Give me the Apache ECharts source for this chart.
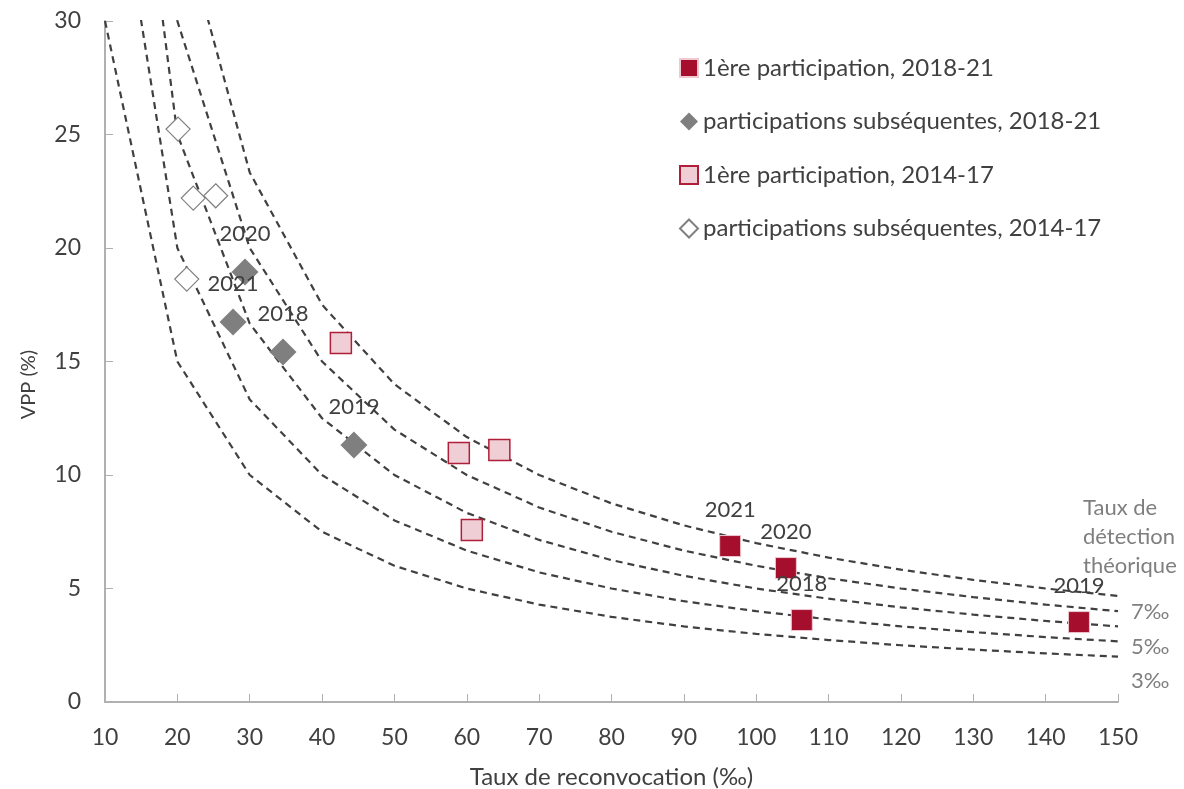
<!DOCTYPE html>
<html>
<head>
<meta charset="utf-8">
<script src="https://cdn.jsdelivr.net/npm/echarts@6/dist/echarts.min.js"></script>
<style>
  html, body { margin: 0; padding: 0; background: #fff; }
  #chart { width: 1184px; height: 789px; }
</style>
</head>
<body>
<div id="chart"></div>
<script>
// recall rate (‰) where the iso-detection curves are sampled
const recallRates = [10, 20, 30, 40, 50, 60, 70, 80, 90, 100, 110, 120, 130, 140, 150];

// VPP (%) along each theoretical detection-rate curve
const curve3 = [30, 15, 10, 7.5, 6, 5, 4.29, 3.75, 3.33, 3, 2.73, 2.5, 2.31, 2.14, 2];
const curve4 = [40, 20, 13.33, 10, 8, 6.67, 5.71, 5, 4.44, 4, 3.64, 3.33, 3.08, 2.86, 2.67];
const curve5 = [50, 25, 16.67, 12.5, 10, 8.33, 7.14, 6.25, 5.56, 5, 4.55, 4.17, 3.85, 3.57, 3.33];
const curve6 = [60, 30, 20, 15, 12, 10, 8.57, 7.5, 6.67, 6, 5.45, 5, 4.62, 4.29, 4];
const curve7 = [70, 35, 23.33, 17.5, 14, 11.67, 10, 8.75, 7.78, 7, 6.36, 5.83, 5.38, 5, 4.67];
const curveLabels = ['3‰', '', '5‰', '', '7‰'];

// 1ère participation, 2018-21
const firstYears = ['2021', '2020', '2018', '2019'];
const firstRecall = [96.4, 104.1, 106.3, 144.6];
const firstVpp = [6.87, 5.9, 3.61, 3.52];

// participations subséquentes, 2018-21
const nextYears = ['2020', '2021', '2018', '2019'];
const nextRecall = [29.35, 27.7, 34.6, 44.4];
const nextVpp = [18.94, 16.74, 15.42, 11.32];

// 1ère participation, 2014-17
const oldFirstRecall = [42.6, 58.9, 64.5, 60.7];
const oldFirstVpp = [15.81, 10.97, 11.1, 7.58];

// participations subséquentes, 2014-17
const oldNextRecall = [20.1, 22.2, 25.3, 21.3];
const oldNextVpp = [25.24, 22.2, 22.3, 18.63];

const FONT = 'Lato';
const TEXT = '#404040';
const GREY = '#7f7f7f';
const AXIS = '#b0b0b0';

const chart = echarts.init(document.getElementById('chart'));

const pairs = (xs, ys) => xs.map((x, i) => [x, ys[i]]);

// the end labels sit a little below the end of their curve
const labelDrop = [24, 0, 20, 0, 16];

const curveSeries = [curve3, curve4, curve5, curve6, curve7].map((ys, i) => ({
    name: 'curve' + (i + 3),
    type: 'line',
    data: pairs(recallRates, ys),
    symbol: 'none',
    silent: true,
    z: 1,
    lineStyle: { color: '#404040', width: 2.2, type: [7, 5] },
    endLabel: curveLabels[i] ? {
        show: true,
        formatter: curveLabels[i],
        color: GREY,
        fontFamily: FONT,
        fontSize: 22,
        offset: [5, labelDrop[i]]
    } : { show: false }
}));

const yearLabel = names => ({
    show: true,
    position: 'top',
    distance: 14,
    color: TEXT,
    fontFamily: FONT,
    fontSize: 22,
    formatter: p => names[p.dataIndex]
});

const option = {
    animation: false,
    textStyle: { fontFamily: FONT },
    grid: { left: 105, right: 66, top: 21, bottom: 87, outerBoundsMode: 'none' },
    legend: {
        data: [
            '1ère participation, 2018-21',
            'participations subséquentes, 2018-21',
            '1ère participation, 2014-17',
            'participations subséquentes, 2014-17'
        ],
        orient: 'vertical',
        left: 674,
        top: 51,
        itemWidth: 18,
        itemHeight: 18,
        itemGap: 29.5,
        textStyle: { color: TEXT, fontSize: 24, fontFamily: FONT, lineHeight: 24 }
    },
    xAxis: {
        type: 'value',
        min: 10,
        max: 150,
        interval: 10,
        name: 'Taux de reconvocation (‰)',
        nameLocation: 'middle',
        nameGap: 63,
        nameTextStyle: { color: TEXT, fontSize: 24, fontFamily: FONT },
        axisLine: { lineStyle: { color: AXIS, width: 2 } },
        axisTick: { inside: true, length: 8, lineStyle: { color: AXIS, width: 1 } },
        axisLabel: { color: TEXT, fontSize: 23, fontFamily: FONT, margin: 24 },
        splitLine: { show: false }
    },
    yAxis: {
        type: 'value',
        min: 0,
        max: 30,
        interval: 5,
        name: 'VPP (%)',
        nameLocation: 'middle',
        nameRotate: 90,
        nameGap: 66,
        nameTextStyle: { color: TEXT, fontSize: 20, fontFamily: FONT, padding: [0, 46, 0, 0] },
        axisLine: { show: true, lineStyle: { color: AXIS, width: 2 } },
        axisTick: { show: true, inside: true, length: 8, lineStyle: { color: AXIS, width: 1 } },
        axisLabel: { color: TEXT, fontSize: 23, fontFamily: FONT, margin: 24 },
        splitLine: { show: false }
    },
    graphic: [{
        type: 'text',
        left: 1083,
        top: 493,
        style: {
            text: 'Taux de\ndétection\nthéorique',
            fill: GREY,
            font: '22px ' + FONT,
            lineHeight: 29
        }
    }],
    series: [
        ...curveSeries,
        {
            name: '1ère participation, 2018-21',
            type: 'scatter',
            symbol: 'rect',
            symbolSize: 21,
            z: 5,
            itemStyle: { color: '#a50e2d', borderColor: '#f0c8d0', borderWidth: 1, opacity: 1 },
            label: yearLabel(firstYears),
            data: pairs(firstRecall, firstVpp)
        },
        {
            name: 'participations subséquentes, 2018-21',
            type: 'scatter',
            symbol: 'diamond',
            symbolSize: 27,
            z: 5,
            itemStyle: { color: '#7f7f7f', opacity: 1 },
            label: yearLabel(nextYears),
            data: pairs(nextRecall, nextVpp)
        },
        {
            name: '1ère participation, 2014-17',
            type: 'scatter',
            symbol: 'rect',
            symbolSize: 21,
            z: 4,
            itemStyle: { color: '#efcfd5', borderColor: '#b01f3a', borderWidth: 1.5, opacity: 1 },
            data: pairs(oldFirstRecall, oldFirstVpp)
        },
        {
            name: 'participations subséquentes, 2014-17',
            type: 'scatter',
            symbol: 'diamond',
            symbolSize: 24,
            z: 4,
            itemStyle: { color: '#ffffff', borderColor: '#808080', borderWidth: 1.2, opacity: 1 },
            data: pairs(oldNextRecall, oldNextVpp)
        }
    ]
};

chart.setOption(option);
</script>
</body>
</html>
